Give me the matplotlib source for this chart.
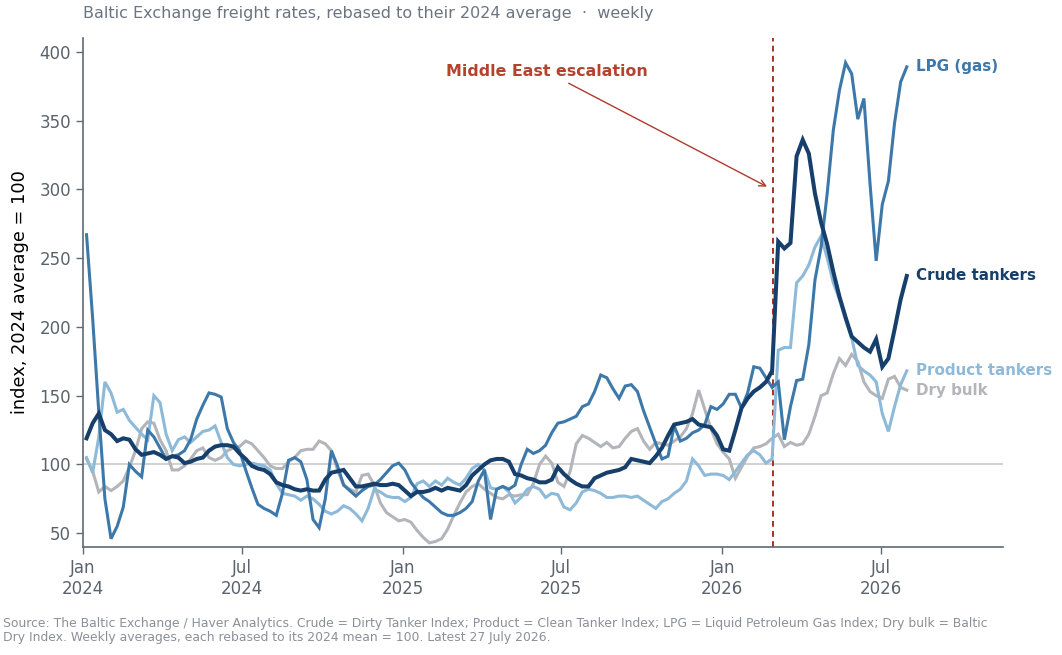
import matplotlib.pyplot as plt
import matplotlib.dates as mdates
import pandas as pd

# weekly observations, Jan 2024 .. late Jul 2026
weeks = pd.date_range('2024-01-05', periods=135, freq='7D')

crude = [119, 130, 137, 125, 122, 117, 119, 118, 111, 107, 108, 109, 107, 104, 106, 105,
         101, 102, 104, 105, 110, 113, 114, 114, 113, 108, 104, 99, 97, 96, 93, 87,
         85, 84, 82, 81, 82, 81, 81, 89, 94, 95, 96, 90, 84, 84, 85, 86,
         85, 85, 86, 85, 81, 77, 80, 80, 81, 83, 81, 83, 82, 81, 85, 92,
         96, 100, 103, 104, 104, 102, 93, 92, 90, 89, 87, 87, 89, 98, 93, 89,
         86, 84, 84, 90, 92, 94, 95, 96, 98, 104, 103, 102, 101, 106, 112, 121,
         129, 130, 131, 133, 129, 128, 127, 121, 111, 110, 125, 141, 148, 153, 156, 160,
         168, 262, 257, 261, 324, 336, 326, 297, 276, 260, 240, 222, 207, 193, 189, 185,
         182, 191, 171, 177, 198, 220, 237]

lpg = [267, 206, 138, 75, 46, 55, 69, 100, 95, 91, 125, 120, 112, 104, 106, 107,
       110, 118, 133, 143, 152, 151, 149, 126, 116, 110, 96, 83, 71, 68, 66, 63,
       79, 103, 105, 102, 89, 60, 54, 75, 110, 99, 85, 81, 77, 81, 84, 85,
       89, 94, 99, 101, 96, 87, 81, 76, 73, 69, 65, 63, 63, 65, 68, 73,
       88, 96, 60, 82, 84, 82, 85, 100, 111, 108, 110, 114, 123, 130, 131, 133,
       135, 142, 144, 153, 165, 163, 155, 148, 157, 158, 153, 139, 127, 115, 104, 106,
       128, 117, 119, 123, 125, 129, 142, 140, 144, 151, 151, 141, 152, 171, 170, 163,
       156, 160, 118, 142, 161, 162, 187, 234, 258, 297, 343, 372, 392, 384, 351, 366,
       304, 248, 289, 306, 348, 378, 389]

product = [105, 94, 120, 160, 152, 138, 140, 132, 127, 122, 118, 150, 145, 122, 110, 118,
           120, 116, 120, 124, 125, 128, 116, 105, 100, 99, 100, 101, 100, 99, 96, 86,
           79, 78, 77, 74, 77, 75, 71, 66, 64, 66, 70, 68, 64, 59, 68, 82,
           80, 77, 76, 76, 73, 76, 86, 88, 84, 88, 85, 90, 87, 85, 90, 97,
           100, 96, 83, 82, 84, 80, 72, 76, 82, 84, 82, 76, 79, 78, 69, 67,
           72, 80, 82, 81, 79, 76, 76, 77, 77, 76, 77, 74, 71, 68, 73, 75,
           79, 82, 88, 104, 99, 92, 93, 93, 92, 89, 95, 101, 107, 110, 107, 101,
           104, 183, 185, 185, 232, 237, 245, 258, 266, 250, 232, 220, 205, 192, 172, 168,
           165, 160, 137, 124, 142, 158, 168]

dry_bulk = [104, 95, 80, 84, 81, 84, 88, 98, 110, 126, 131, 130, 118, 110, 96, 96,
            99, 104, 110, 112, 105, 103, 105, 110, 112, 113, 117, 115, 110, 105, 99, 97,
            97, 102, 105, 110, 111, 111, 117, 115, 110, 96, 85, 82, 80, 92, 93, 85,
            72, 65, 62, 59, 60, 58, 52, 47, 43, 44, 46, 53, 63, 72, 80, 84,
            86, 82, 79, 76, 75, 78, 77, 78, 78, 86, 100, 106, 101, 87, 84, 95,
            115, 121, 119, 116, 113, 116, 112, 113, 119, 124, 126, 117, 111, 116, 115, 114,
            117, 120, 126, 137, 154, 140, 126, 115, 109, 104, 90, 98, 106, 112, 113, 115,
            119, 122, 113, 116, 114, 115, 122, 135, 150, 152, 166, 177, 172, 180, 175, 160,
            153, 150, 148, 162, 164, 156, 154]

names = ['Dry bulk', 'Product tankers', 'LPG (gas)', 'Crude tankers']
series = [dry_bulk, product, lpg, crude]
colors = ['#b3b5ba', '#8ebad9', '#3d78aa', '#163f6c']
widths = [2.2, 2.2, 2.2, 2.9]

event_date = pd.Timestamp('2026-02-28')

fig = plt.figure(figsize=(10.62, 6.55), dpi=100)
ax = fig.add_axes([0.0782, 0.1649, 0.8662, 0.7771])

ax.axhline(100, color='#c9c9c9', lw=1.2, zorder=1)

for name, vals, c, w in zip(names, series, colors, widths):
    ax.plot(weeks, vals, color=c, lw=w, zorder=3, solid_joinstyle='miter')
    # direct label at the last point
    ax.annotate(name, (weeks[-1], vals[-1]), xytext=(7, 0), textcoords='offset points',
                ha='left', va='center', color=c, fontsize=10.9, fontweight='bold')

ax.axvline(event_date, color='#a8321f', lw=1.4, ls=(0, (3, 2.2)), zorder=2)
ax.annotate('Middle East escalation', xy=(pd.Timestamp('2026-02-24'), 301),
            xytext=(pd.Timestamp('2025-06-14'), 385.5),
            ha='center', va='center', color='#b3432d', fontsize=11.4, fontweight='bold',
            arrowprops=dict(arrowstyle='->', color='#b03a2e', lw=1.0))

ax.set_xlim(pd.Timestamp('2024-01-01'), pd.Timestamp('2026-11-18'))
ax.set_ylim(40, 410)
ax.set_yticks(range(50, 401, 50))
ax.xaxis.set_major_locator(mdates.MonthLocator(bymonth=[1, 7]))
ax.xaxis.set_major_formatter(mdates.DateFormatter('%b\n%Y'))

for side in ['top', 'right']:
    ax.spines[side].set_visible(False)
for side in ['left', 'bottom']:
    ax.spines[side].set_color('#5e6a77')
    ax.spines[side].set_linewidth(1.2)
ax.tick_params(colors='#5e6a77', labelcolor='#5a626c', labelsize=12, length=5, width=1)

ax.set_ylabel('index, 2024 average = 100', fontsize=12.8, color='black', labelpad=8)

fig.text(0.0782, 0.979, 'Baltic Exchange freight rates, rebased to their 2024 average  \u00b7  weekly',
         ha='left', va='center', fontsize=11.5, color='#6b7480')
fig.text(0.003, 0.058,
         'Source: The Baltic Exchange / Haver Analytics. Crude = Dirty Tanker Index; Product = Clean Tanker Index; '
         'LPG = Liquid Petroleum Gas Index; Dry bulk = Baltic\n'
         'Dry Index. Weekly averages, each rebased to its 2024 mean = 100. Latest 27 July 2026.',
         ha='left', va='top', fontsize=8.9, color='#8a9099', linespacing=1.1)

fig.savefig('out.png', dpi=100)
